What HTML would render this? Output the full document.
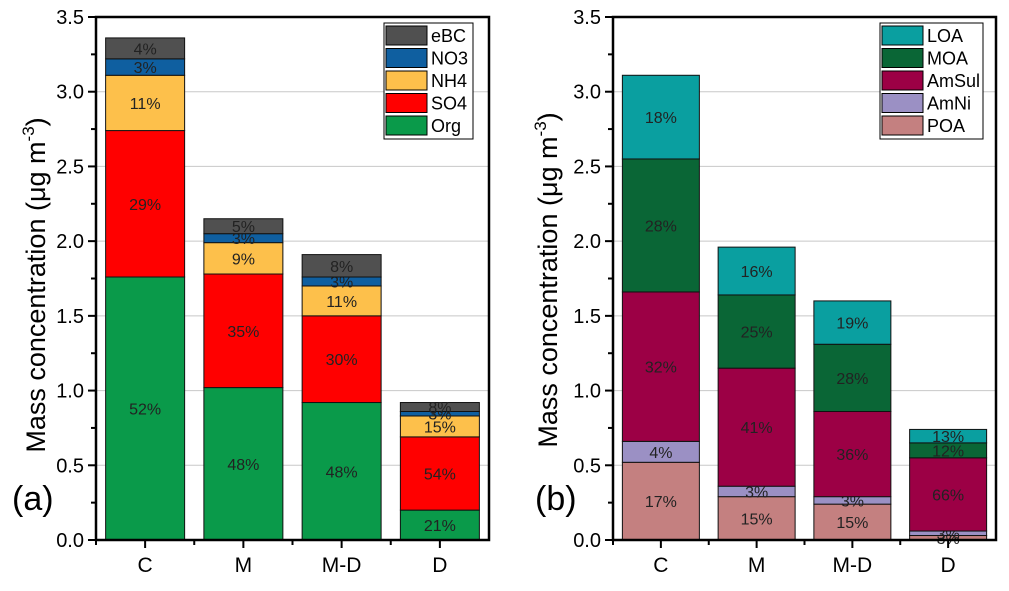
<!DOCTYPE html>
<html><head><meta charset="utf-8"><style>
body{margin:0;background:#fff;width:1009px;height:586px;overflow:hidden}
svg text{font-family:"Liberation Sans",Arial,sans-serif}
</style></head><body>
<svg id="fig" width="1009" height="586" viewBox="0 0 1009 586" xmlns="http://www.w3.org/2000/svg"></svg>
<script>
const categories = ["C","M","M-D","D"];
const seriesA = ["Org","SO4","NH4","NO3","eBC"];
const colorsA = ["#0a9a4a","#ff0000","#fdc04b","#0f5fa0","#505050"];
const orgA = [1.76,1.02,0.92,0.20];
const so4A = [0.98,0.76,0.58,0.49];
const nh4A = [0.37,0.21,0.20,0.14];
const no3A = [0.11,0.06,0.06,0.03];
const ebcA = [0.14,0.10,0.15,0.06];
const pctOrg = ["52%","48%","48%","21%"];
const pctSO4 = ["29%","35%","30%","54%"];
const pctNH4 = ["11%","9%","11%","15%"];
const pctNO3 = ["3%","3%","3%","3%"];
const pctEBC = ["4%","5%","8%","8%"];
const seriesB = ["POA","AmNi","AmSul","MOA","LOA"];
const colorsB = ["#c48080","#9b90c4","#9c0045","#0a6636","#0a9fa0"];
const poaB = [0.52,0.29,0.24,0.03];
const amniB = [0.14,0.07,0.05,0.03];
const amsulB = [1.00,0.79,0.57,0.49];
const moaB = [0.89,0.49,0.45,0.10];
const loaB = [0.56,0.32,0.29,0.09];
const pctPOA = ["17%","15%","15%","3%"];
const pctAmNi = ["4%","3%","3%","3%"];
const pctAmSul = ["32%","41%","36%","66%"];
const pctMOA = ["28%","25%","28%","12%"];
const pctLOA = ["18%","16%","19%","13%"];
const yTicks = ["0.0","0.5","1.0","1.5","2.0","2.5","3.0","3.5"];

const NS="http://www.w3.org/2000/svg";
const svg=document.getElementById('fig');
function mk(tag,attrs,parent){const e=document.createElementNS(NS,tag);for(const k in attrs)e.setAttribute(k,attrs[k]);(parent||svg).appendChild(e);return e;}

function chart(opt){
  const g=mk('g',{});
  
  
  const x0=opt.x0,x1=opt.x1,yTop=17,yBot=540,ymax=3.5;
  const Y=v=>yBot-(v/ymax)*(yBot-yTop);
  const step=(x1-x0)/4;
  const X=i=>x0+step*(i+0.5);
  const bw=opt.bw;
  yTicks.forEach(t=>{const v=parseFloat(t);if(v>0&&v<3.5){const l=mk('line',{x1:x0,x2:x1,y1:Y(v),y2:Y(v),stroke:'#c8c8c8','stroke-width':1},g);}});
  categories.forEach((c,i)=>{
    let base=0;
    opt.vals.forEach((arr,s)=>{
      const v=arr[i];
      const r=mk('rect',{x:X(i)-bw/2,y:Y(base+v),width:bw,height:Y(base)-Y(base+v),fill:opt.colors[s],stroke:'#111','stroke-width':1},g);
      
      
      const t=mk('text',{x:X(i),y:Y(base+v/2)+6,'text-anchor':'middle','font-size':16,fill:'#222'},g);
      t.textContent=opt.pcts[s][i];
      
      
      base+=v;
    });
  });
  const fr=mk('rect',{x:x0,y:yTop,width:x1-x0,height:yBot-yTop,fill:'none',stroke:'#000','stroke-width':2.5},g);
  
  yTicks.forEach(t=>{const v=parseFloat(t);
    mk('line',{x1:x0-8,x2:x0,y1:Y(v),y2:Y(v),stroke:'#000','stroke-width':2},g);
    if(v<3.5)mk('line',{x1:x0-5,x2:x0,y1:Y(v+0.25),y2:Y(v+0.25),stroke:'#000','stroke-width':2},g);
    const tx=mk('text',{x:x0-12,y:Y(v)+7,'text-anchor':'end','font-size':20,fill:'#000'},g);
    tx.textContent=t;
  });
  categories.forEach((c,i)=>{
    mk('line',{x1:X(i),x2:X(i),y1:yBot,y2:yBot+8,stroke:'#000','stroke-width':2},g);
    mk('line',{x1:x0+step*i,x2:x0+step*i,y1:yBot,y2:yBot+5,stroke:'#000','stroke-width':2},g);
    const tx=mk('text',{x:X(i),y:yBot+32,'text-anchor':'middle','font-size':21,fill:'#000'},g);
    tx.textContent=c;
  });
  const yt=mk('text',{x:0,y:0,'text-anchor':'middle','font-size':27,fill:'#000',transform:`translate(${opt.titleX},${opt.titleY}) rotate(-90)`},g);
  yt.innerHTML='Mass concentration (μg m<tspan dy="-11" font-size="17">-3</tspan><tspan dy="11">)</tspan>';
  
  const pl=mk('text',{x:opt.labX,y:510,'font-size':34,fill:'#000'},g);
  pl.textContent=opt.panel;
  const lg=mk('g',{},g);
  mk('rect',{x:opt.lx,y:23,width:opt.lw,height:116,fill:'#fff',stroke:'#000','stroke-width':1},lg);
  for(let k=0;k<5;k++){
    const s=4-k;
    const ey=26+k*22.5;
    const e=mk('g',{},lg);
    mk('rect',{x:opt.lx+2,y:ey,width:41,height:19,fill:opt.colors[s],stroke:'#000','stroke-width':1},e);
    const t=mk('text',{x:opt.lx+47,y:ey+16,'font-size':18,fill:'#000'},e);t.textContent=opt.series[s];
  }
}
chart({name:'chart-a',x0:96,x1:489,bw:79,series:seriesA,colors:colorsA,vals:[orgA,so4A,nh4A,no3A,ebcA],pcts:[pctOrg,pctSO4,pctNH4,pctNO3,pctEBC],titleX:45,titleY:285,labX:12,panel:'(a)',lx:384,lw:89});
chart({name:'chart-b',x0:613,x1:996,bw:77,series:seriesB,colors:colorsB,vals:[poaB,amniB,amsulB,moaB,loaB],pcts:[pctPOA,pctAmNi,pctAmSul,pctMOA,pctLOA],titleX:557,titleY:280,labX:535,panel:'(b)',lx:880,lw:103});
</script>
</body></html>
